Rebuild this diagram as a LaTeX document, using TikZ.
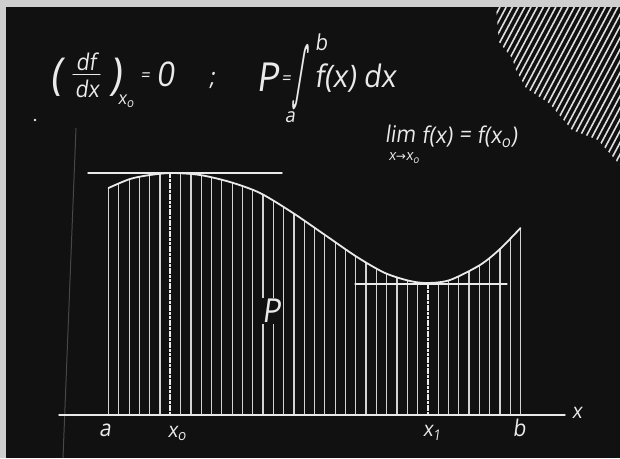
\documentclass[tikz,border=0pt]{standalone}
\usepackage{fontspec}
\newfontfamily\chalk{Open Sans}[FakeStretch=0.92,FakeSlant=0.14]
\newfontfamily\symb{DejaVu Sans}
\newfontfamily\symbi{DejaVu Sans}[FakeSlant=0.45]
\definecolor{bg}{HTML}{111111}
\definecolor{chalk}{HTML}{EAEAEA}
\definecolor{frame}{HTML}{CFCFCF}
\begin{document}
\begin{tikzpicture}[x=1pt,y=-1pt,
  lbl/.style={text=chalk, inner sep=0pt, font=\chalk\fontsize{#1}{#1}\selectfont},
  stroke/.style={draw=chalk, line width=1.4pt, line cap=round},
  vline/.style={draw=chalk!90!black, line width=1.2pt},
  hatchline/.style={draw=chalk!95!black, line width=1.6pt},
  markline/.style={draw=chalk, line width=1.9pt, dash pattern=on 3pt off 0.7pt}]
\useasboundingbox (0,0) rectangle (620,458);
\fill[frame] (0,0) rectangle (620,458);
\fill[bg] (6,7) rectangle (620,458);

% hatching top right
\begin{scope}
\clip (496,7) -- (620,7) -- (620,165) -- (598,140) -- (572,130) -- (550,104) -- (526,88) -- (516,70) -- (512,58) -- (499,42) -- cycle;
\foreach \c in {0,...,40} \draw[hatchline] ({500+\c*6.2},7) -- ++(-100,188);
\end{scope}

% faint board line and dot
\draw[chalk, opacity=0.25, line width=1pt] (76,128) -- (63,458);
\fill[chalk] (35,120) circle (1.3);

% vertical strips
\begin{scope}
\clip plot[smooth] coordinates {(108.5,188) (130,179) (150,175) (172,173) (200,175) (230,182) (260,193) (293,213) (325,235) (357,257) (385,273) (410,281) (428,283) (450,280) (480,265) (500,249) (520.5,228)} -- (520.5,415) -- (108.5,415) -- cycle;
\foreach \i in {1,...,5,7,8,...,30,32,33,...,39} \draw[vline] ({108.5+\i*10.3},415) -- ++(0,-260);
\draw[markline] (170.3,415) -- ++(0,-260);
\draw[markline] (427.8,415) -- ++(0,-260);
\end{scope}
\draw[vline] (108.5,415) -- (108.5,188);
\draw[vline] (520.5,415) -- (520.5,228);

% curve
\draw[stroke, line width=1.8pt] plot[smooth] coordinates {(108.5,188) (130,179) (150,175) (172,173) (200,175) (230,182) (260,193) (293,213) (325,235) (357,257) (385,273) (410,281) (428,283) (450,280) (480,265) (500,249) (520.5,228)};

% tangents and axis
\coordinate (t1a) at (88,173); \coordinate (t1b) at (282,173);
\coordinate (t2a) at (355,284); \coordinate (t2b) at (507,284);
\coordinate (ax0) at (59,415); \coordinate (ax1) at (565,415);
\draw[stroke] (t1a) -- (t1b);
\draw[stroke, line width=1.2pt] (t2a) -- (t2b);
\draw[stroke] (ax0) -- (ax1);

% labels on axis
\node[lbl=23] (la) at (105,430) {a};
\node[lbl=21] (lx0) at (177,433) {x\textsubscript{o}};
\node[lbl=21] (lx1) at (432,433) {x\textsubscript{1}};
\node[lbl=23] (lb) at (519,428) {b};
\node[lbl=21] (lx) at (577,413) {x};
\node[lbl=33, fill=bg, inner sep=1pt] (lP) at (271,311) {P};

% derivative formula
\node[lbl=44] (lpar) at (56,77) {(};
\node[lbl=23] (df) at (86,62) {df};
\draw[stroke, line width=1.1pt] (73,74.5) -- (100,74.5);
\node[lbl=23] (dx) at (87,89) {dx};
\node[lbl=44] (rpar) at (115,77) {)};
\node[lbl=18] (sub0) at (126,101) {x\textsubscript{o}};
\node[lbl=18] (eq1) at (145,77) {=};
\node[lbl=34] (zero) at (165,74) {0};
\node[lbl=24] (semi) at (212,80) {;};

% integral formula
\node[lbl=40] (P) at (268,77) {P};
\node[lbl=18] (eq2) at (286,80) {=};
\node[text=chalk, inner sep=0pt, font=\symbi\fontsize{26}{26}\selectfont] (int) at (298,77) {\scalebox{0.85}[2.6]{∫}};
\node[lbl=22] (ub) at (321,42) {b};
\node[lbl=20] (lbnd) at (290,117) {a};
\node[lbl=31] (fx) at (355,78) {f(x) dx};

% limit
\node[lbl=23] (lim) at (400,134) {lim};
\node[lbl=23] (fx2) at (437,137) {f(x)};
\node[lbl=23] (eq3) at (465,137) {=};
\node[lbl=23] (fx3) at (497,137) {f(x\textsubscript{o})};
\node[text=chalk, inner sep=0pt, font=\chalk\fontsize{15}{15}\selectfont] (limsub) at (404,158) {x{\symb\fontsize{12}{12}\selectfont→}x\textsubscript{o}};
\end{tikzpicture}
\end{document}
